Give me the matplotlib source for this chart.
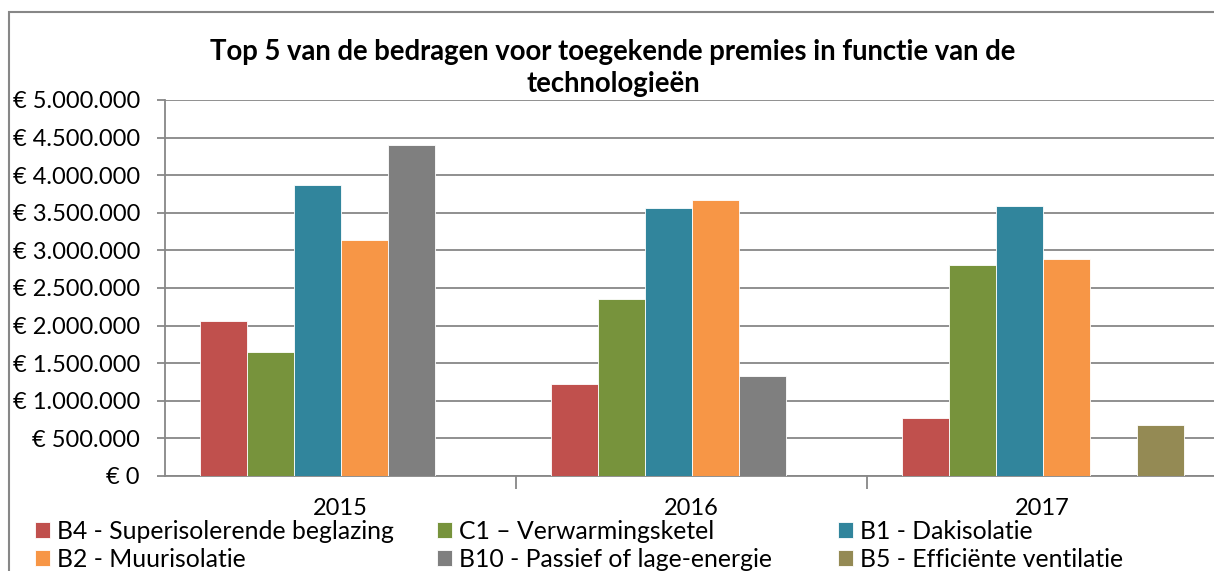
import matplotlib.pyplot as plt
import matplotlib.ticker as mticker
from matplotlib.patches import Rectangle
import numpy as np

plt.rcParams['font.family'] = ['Lato', 'DejaVu Sans']

years = ['2015', '2016', '2017']
series = ['B4 - Superisolerende beglazing', 'C1 \u2013 Verwarmingsketel', 'B1 - Dakisolatie',
          'B2 - Muurisolatie', 'B10 - Passief of lage-energie', 'B5 - Effici\u00ebnte ventilatie']
b4 = [2060000, 1220000, 770000]
c1 = [1650000, 2350000, 2810000]
b1 = [3870000, 3560000, 3590000]
b2 = [3140000, 3670000, 2890000]
b10 = [4400000, 1330000, np.nan]
b5 = [np.nan, np.nan, 680000]
colors = ['#C0504D', '#77933C', '#31859C', '#F79646', '#7F7F7F', '#948A54']

fig = plt.figure(figsize=(12.14, 5.71), dpi=100)
ax = fig.add_axes([165 / 1214, 1 - 476 / 571, (1218 - 165) / 1214, 376 / 571])

x = np.arange(len(years))
w = 47 / 351
bars = []
for i, (vals, lab, col) in enumerate(zip([b4, c1, b1, b2, b10, b5], series, colors)):
    b = ax.bar(x + (i - 2.5) * w, vals, w, color=col, edgecolor='white', linewidth=0.6, label=lab, zorder=3)
    bars.append(b)

ax.set_xlim(-0.5, 2.5)
ax.set_ylim(0, 5000000)
ax.yaxis.set_major_locator(mticker.MultipleLocator(500000))
ax.yaxis.set_major_formatter(mticker.FuncFormatter(lambda v, p: '\u20ac ' + f'{int(v):,}'.replace(',', '.')))
ax.grid(axis='y', color='#878787', linewidth=1.3, zorder=0)
ax.set_xticks(x)
ax.set_xticklabels(years)
ax.set_xticks([0.5, 1.5], minor=True)
ax.tick_params(axis='x', which='major', length=0, pad=16, labelsize=17)
ax.tick_params(axis='x', which='minor', length=9, color='#878787', width=1.3)
ax.tick_params(axis='y', length=6, color='#878787', width=1.3, labelsize=17, pad=12)
for s in ['top', 'right']:
    ax.spines[s].set_visible(False)
for s in ['left', 'bottom']:
    ax.spines[s].set_color('#878787')
    ax.spines[s].set_linewidth(1.3)

fig.text(613 / 1214, 1 - 68 / 571, 'Top 5 van de bedragen voor toegekende premies in functie van de\ntechnologie\u00ebn',
         ha='center', va='center', fontsize=19.8, fontweight='bold', linespacing=1.3)

# chart border
fig.patches.append(Rectangle((9 / 1214, -0.1), 1.2, 1 - 12 / 571 + 0.1, transform=fig.transFigure,
                             fill=False, edgecolor='#878787', linewidth=1.5))

# legend, three columns
col_x = [35, 437, 838]
for c in range(3):
    idx = [c, c + 3]
    fig.legend([bars[i] for i in idx], [series[i] for i in idx], loc='upper left',
               bbox_to_anchor=(col_x[c] / 1214, 1 - 520 / 571), frameon=False, fontsize=17.8,
               handlelength=0.6, handleheight=0.6, handletextpad=0.3, labelspacing=0.2,
               borderaxespad=0, borderpad=0)

fig.savefig('out.png', dpi=100)
